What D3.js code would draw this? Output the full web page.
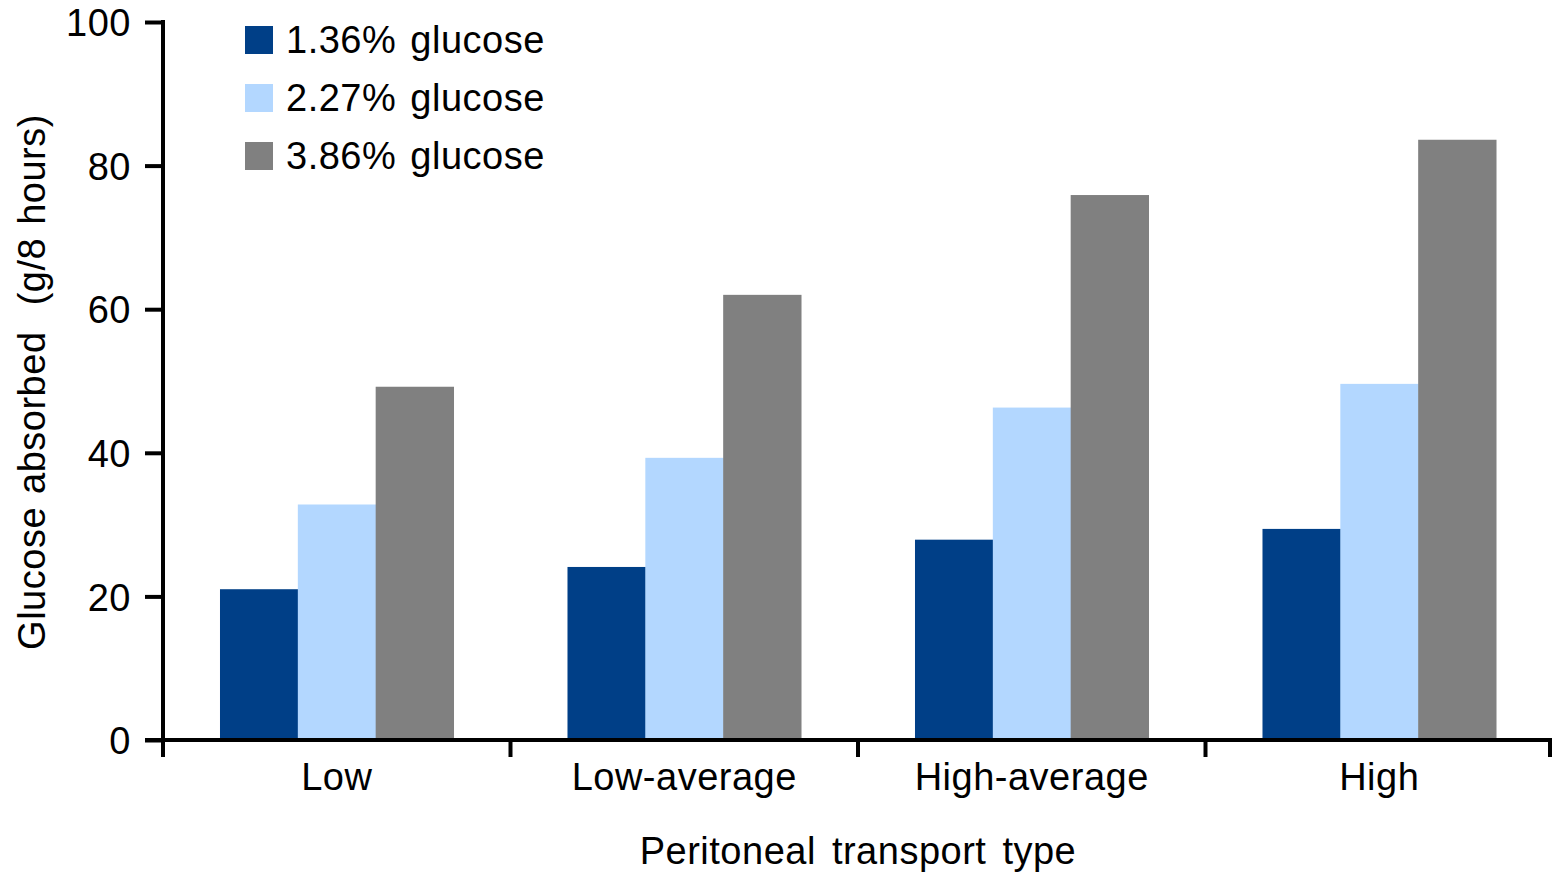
<!DOCTYPE html>
<html>
<head>
<meta charset="utf-8">
<script src="https://cdn.jsdelivr.net/npm/d3@7"></script>
<style>
  html, body { margin: 0; padding: 0; background: #fff; }
  svg { display: block; }
  text { font-family: "Liberation Sans", Arial, sans-serif; fill: #000; font-size: 38px; letter-spacing: 0.5px; }
</style>
</head>
<body>
<svg id="chart" width="1553" height="873"></svg>
<script>
// Glucose absorbed over an 8-hour dwell, by peritoneal transport type
const categories = ["Low", "Low-average", "High-average", "High"];
const seriesNames = ["1.36% glucose", "2.27% glucose", "3.86% glucose"];
const glucose136 = [21.0, 24.1, 27.9, 29.4];
const glucose227 = [32.8, 39.3, 46.3, 49.6];
const glucose386 = [49.2, 62.0, 75.9, 83.6];
const yTicks = [0, 20, 40, 60, 80, 100];
const colors = ["#003F87", "#B3D7FF", "#808080"];

const seriesValues = [glucose136, glucose227, glucose386];

const svg = d3.select("#chart");
const margin = { left: 163, right: 0, top: 22, bottom: 133 };
const width = 1553, height = 873;

const x0 = d3.scaleBand()
  .domain(categories)
  .range([margin.left, width - margin.right])
  .paddingInner(0.328)
  .paddingOuter(0.164);

const x1 = d3.scaleBand()
  .domain(seriesNames)
  .range([0, x0.bandwidth()]);

const y = d3.scaleLinear()
  .domain([0, 100])
  .range([height - margin.bottom, margin.top]);

const color = d3.scaleOrdinal().domain(seriesNames).range(colors);

// Bars
const groups = svg.append("g").selectAll("g")
  .data(categories)
  .join("g")
  .attr("transform", d => `translate(${x0(d)},0)`);

groups.selectAll("rect")
  .data((c, i) => seriesNames.map((s, k) => ({ s, v: seriesValues[k][i] })))
  .join("rect")
  .attr("x", d => x1(d.s))
  .attr("width", x1.bandwidth() + 0.5)
  .attr("y", d => y(d.v))
  .attr("height", d => y(0) - y(d.v))
  .attr("fill", d => color(d.s));

// Y axis
const yAxis = d3.axisLeft(y).tickValues(yTicks).tickSize(18).tickPadding(14);
const gy = svg.append("g")
  .attr("transform", `translate(${margin.left},0)`)
  .call(yAxis);
gy.select(".domain").remove();
gy.selectAll(".tick line").attr("stroke", "#000").attr("stroke-width", 4);
gy.selectAll(".tick text")
  .attr("font-size", null).attr("font-family", null)
  .attr("dy", "0.36em");
gy.append("line")
  .attr("x1", 0).attr("x2", 0)
  .attr("y1", y(100) - 2).attr("y2", y(0) + 17)
  .attr("stroke", "#000").attr("stroke-width", 4);

// X axis with ticks at band boundaries
const boundaries = categories.map(c => x0(c) - x0.step() * x0.paddingInner() / 2)
  .concat([width - margin.right]);
const gx = svg.append("g");
gx.append("line")
  .attr("x1", margin.left - 18).attr("x2", width - 1)
  .attr("y1", y(0)).attr("y2", y(0))
  .attr("stroke", "#000").attr("stroke-width", 4);
gx.selectAll("line.tk")
  .data(boundaries)
  .join("line")
  .attr("class", "tk")
  .attr("x1", d => Math.min(d, width - 3)).attr("x2", d => Math.min(d, width - 3))
  .attr("y1", y(0)).attr("y2", y(0) + 17)
  .attr("stroke", "#000").attr("stroke-width", 4);
gx.selectAll("text")
  .data(categories)
  .join("text")
  .attr("x", d => x0(d) + x0.bandwidth() / 2)
  .attr("y", y(0) + 50)
  .attr("text-anchor", "middle")
  .text(d => d);

// Axis titles
svg.append("text")
  .attr("x", 858).attr("y", 864)
  .attr("text-anchor", "middle")
  .style("word-spacing", "5px")
  .text("Peritoneal transport type");

svg.append("text")
  .attr("transform", "translate(45,382) rotate(-90)")
  .attr("text-anchor", "middle")
  .style("word-spacing", "2px")
  .text("Glucose absorbed  (g/8 hours)")
  .attr("xml:space", "preserve");

// Legend
const legend = svg.append("g").attr("transform", "translate(245,26)");
const items = legend.selectAll("g")
  .data(seriesNames)
  .join("g")
  .attr("transform", (d, i) => `translate(0,${i * 58})`);
items.append("rect")
  .attr("width", 28).attr("height", 28)
  .attr("fill", d => color(d));
items.append("text")
  .attr("x", 41).attr("y", 27)
  .style("word-spacing", "3px")
  .text(d => d);
</script>
</body>
</html>
